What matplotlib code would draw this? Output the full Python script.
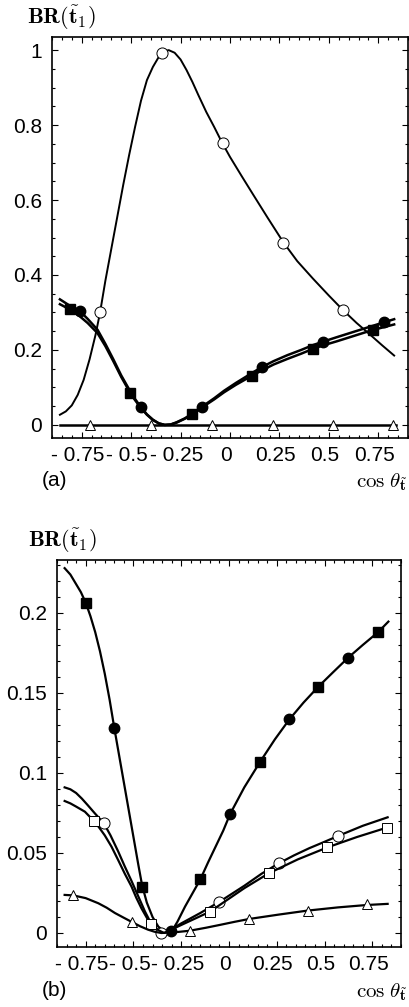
import matplotlib
matplotlib.use("Agg")
import matplotlib.pyplot as plt
import matplotlib.transforms as mtransforms
from matplotlib.ticker import MultipleLocator

plt.rcParams['font.family'] = 'Liberation Sans'
plt.rcParams['mathtext.fontset'] = 'cm'

# ---- panel (a) ----
# open circles: curve and markers
a_circ_line_x = [-0.86, -0.83, -0.80, -0.77, -0.74, -0.71, -0.68, -0.657, -0.63, -0.60, -0.57,
                 -0.54, -0.51, -0.48, -0.45, -0.42, -0.39, -0.36, -0.33, -0.31, -0.28, -0.25,
                 -0.22, -0.19, -0.16, -0.12, -0.08, -0.04, 0.0, 0.06, 0.12, 0.19, 0.27, 0.34,
                 0.42, 0.50, 0.57, 0.64, 0.71, 0.77, 0.83]
a_circ_line_y = [0.027, 0.036, 0.052, 0.08, 0.12, 0.175, 0.24, 0.30, 0.385, 0.47, 0.555,
                 0.64, 0.72, 0.795, 0.865, 0.92, 0.955, 0.982, 0.997, 1.0, 0.993, 0.975,
                 0.947, 0.915, 0.88, 0.835, 0.795, 0.753, 0.715, 0.663, 0.612, 0.553, 0.487, 0.437,
                 0.39, 0.345, 0.307, 0.272, 0.24, 0.212, 0.185]
a_circ_x = [-0.657, -0.345, -0.037, 0.269, 0.572]
a_circ_y = [0.30, 0.993, 0.753, 0.484, 0.307]

# filled squares / filled circles (two nearly identical curves)
a_fill_line_x = [-0.86, -0.81, -0.76, -0.72, -0.67, -0.63, -0.59, -0.55, -0.505, -0.48, -0.45,
                 -0.42, -0.39, -0.36, -0.33, -0.30, -0.27, -0.23, -0.19, -0.14, -0.08, -0.03,
                 0.03, 0.11, 0.16, 0.22, 0.29, 0.36, 0.42, 0.47, 0.54, 0.60, 0.66, 0.72, 0.78, 0.83]
a_sq_line_y = [0.322, 0.308, 0.29, 0.272, 0.245, 0.21, 0.17, 0.128, 0.086, 0.066, 0.045,
               0.027, 0.013, 0.004, 0.0, 0.001, 0.006, 0.016, 0.028, 0.047, 0.068, 0.087,
               0.107, 0.131, 0.145, 0.161, 0.176, 0.19, 0.203, 0.212, 0.223, 0.233, 0.243, 0.253,
               0.261, 0.268]
a_dot_line_y = [0.335, 0.318, 0.304, 0.283, 0.254, 0.216, 0.175, 0.132, 0.09, 0.069, 0.047,
                0.028, 0.014, 0.004, 0.0, 0.001, 0.007, 0.017, 0.03, 0.049, 0.071, 0.091,
                0.112, 0.138, 0.154, 0.17, 0.186, 0.2, 0.213, 0.222, 0.234, 0.244, 0.254, 0.264,
                0.274, 0.282]
a_sq_x = [-0.81, -0.505, -0.194, 0.113, 0.421, 0.724]
a_sq_y = [0.308, 0.086, 0.028, 0.131, 0.203, 0.253]
a_dot_x = [-0.758, -0.451, -0.143, 0.163, 0.471, 0.778]
a_dot_y = [0.304, 0.047, 0.049, 0.154, 0.222, 0.274]

# open triangles
a_tri_line_x = [-0.86, 0.84]
a_tri_line_y = [0.0, 0.0]
a_tri_x = [-0.707, -0.399, -0.089, 0.215, 0.519, 0.825]
a_tri_y = [0.0, 0.0, 0.0, 0.0, 0.0, 0.0]

# ---- panel (b) ----
b_fill_line_x = [-0.86, -0.83, -0.80, -0.775, -0.75, -0.725, -0.70, -0.675, -0.65, -0.625, -0.60,
                 -0.575, -0.55, -0.525, -0.50, -0.475, -0.455, -0.43, -0.40, -0.37, -0.34, -0.305,
                 -0.27, -0.23, -0.19, -0.15, -0.11, -0.07, -0.03, 0.006, 0.08, 0.163, 0.24, 0.316,
                 0.39, 0.468, 0.545, 0.623, 0.70, 0.78, 0.834]
b_fill_line_y = [0.228, 0.224, 0.218, 0.213, 0.2065, 0.198, 0.188, 0.176, 0.162, 0.146, 0.128,
                 0.111, 0.094, 0.077, 0.060, 0.043, 0.030, 0.019, 0.010, 0.004, 0.001, 0.0,
                 0.007, 0.0165, 0.025, 0.0335, 0.044, 0.054, 0.064, 0.0744, 0.091, 0.107, 0.121,
                 0.1335, 0.144, 0.154, 0.163, 0.172, 0.18, 0.188, 0.1946]
b_sq_x = [-0.749, -0.455, -0.15, 0.163, 0.468, 0.78]
b_sq_y = [0.2065, 0.029, 0.0335, 0.107, 0.154, 0.188]
b_dot_x = [-0.601, -0.305, 0.006, 0.316, 0.623]
b_dot_y = [0.1283, 0.0013, 0.0744, 0.1335, 0.172]

b_ocirc_line_x = [-0.86, -0.83, -0.80, -0.77, -0.74, -0.70, -0.655, -0.62, -0.58, -0.545, -0.51,
                  -0.475, -0.44, -0.41, -0.38, -0.35, -0.34, -0.30, -0.25, -0.15, -0.05, 0.08,
                  0.17, 0.26, 0.34, 0.42, 0.50, 0.57, 0.70, 0.83]
b_ocirc_line_y = [0.091, 0.0898, 0.0875, 0.084, 0.080, 0.0745, 0.0686, 0.061, 0.051, 0.0415,
                  0.0325, 0.023, 0.0135, 0.0065, 0.0022, 0.0002, 0.0, 0.0025, 0.006, 0.0125,
                  0.0195, 0.0295, 0.037, 0.0435, 0.0485, 0.053, 0.057, 0.0606, 0.067, 0.0723]
b_ocirc_x = [-0.655, -0.354, -0.05, 0.26, 0.568]
b_ocirc_y = [0.0686, 0.0, 0.0192, 0.044, 0.0606]

b_osq_line_x = [-0.86, -0.83, -0.80, -0.754, -0.707, -0.68, -0.65, -0.615, -0.58, -0.545, -0.51,
                -0.485, -0.458, -0.43, -0.406, -0.37, -0.34, -0.30, -0.25, -0.1, 0.08, 0.208,
                0.36, 0.515, 0.67, 0.83]
b_osq_line_y = [0.0825, 0.081, 0.079, 0.0758, 0.070, 0.066, 0.061, 0.054, 0.0456, 0.037, 0.029,
                0.022, 0.0154, 0.0095, 0.0056, 0.0018, 0.0, 0.0022, 0.005, 0.0133, 0.028, 0.0373,
                0.046, 0.0535, 0.060, 0.066]
b_osq_x = [-0.707, -0.406, -0.098, 0.208, 0.515, 0.825]
b_osq_y = [0.070, 0.0056, 0.0133, 0.0373, 0.0535, 0.0658]

b_tri_line_x = [-0.86, -0.815, -0.75, -0.684, -0.64, -0.597, -0.55, -0.507, -0.465, -0.424,
                -0.39, -0.354, -0.28, -0.206, -0.12, -0.05, 0.03, 0.107, 0.26, 0.411, 0.57,
                0.721, 0.83]
b_tri_line_y = [0.0238, 0.0235, 0.0218, 0.0186, 0.0158, 0.0125, 0.0095, 0.0068, 0.0042, 0.0021,
                0.0008, 0.0, 0.0005, 0.0014, 0.0033, 0.005, 0.007, 0.0088, 0.0115, 0.014, 0.016,
                0.0175, 0.0182]
b_tri_x = [-0.815, -0.507, -0.206, 0.107, 0.411, 0.721]
b_tri_y = [0.024, 0.0071, 0.001, 0.0088, 0.014, 0.018]

x_ticks = [-0.75, -0.5, -0.25, 0, 0.25, 0.5, 0.75]
x_tick_labels = ['- 0.75', '- 0.5', '- 0.25', '0', '0.25', '0.5', '0.75']
a_y_ticks = [0, 0.2, 0.4, 0.6, 0.8, 1]
a_y_tick_labels = ['0', '0.2', '0.4', '0.6', '0.8', '1']
b_y_ticks = [0, 0.05, 0.1, 0.15, 0.2]
b_y_tick_labels = ['0', '0.05', '0.1', '0.15', '0.2']

W, H = 409, 1007
fig = plt.figure(figsize=(W / 100, H / 100), dpi=100)


def style_axes(ax, yticks, ylabels, ylim, yminor):
    ax.set_xlim(-0.9, 0.9)
    ax.set_ylim(*ylim)
    ax.set_xticks(x_ticks)
    ax.set_xticklabels(x_tick_labels)
    ax.set_yticks(yticks)
    ax.set_yticklabels(ylabels)
    ax.xaxis.set_minor_locator(MultipleLocator(0.05))
    ax.yaxis.set_minor_locator(MultipleLocator(yminor))
    ax.tick_params(which='both', direction='in', top=True, right=True, labelsize=15, width=0.8)
    ax.tick_params(which='major', length=4)
    ax.tick_params(which='minor', length=2)
    ax.tick_params(axis='x', pad=6)
    ax.tick_params(axis='y', pad=7)
    for s in ax.spines.values():
        s.set_linewidth(1.2)
    shift = mtransforms.ScaledTranslation(-4 / 100, 0, fig.dpi_scale_trans)
    for lab in ax.get_xticklabels():
        lab.set_transform(lab.get_transform() + shift)


lw = 1.6
# panel (a)
ax1 = fig.add_axes([52 / W, 1 - 438 / H, 356 / W, 401 / H])
ax1.plot(a_circ_line_x, a_circ_line_y, color='black', lw=1.4)
ax1.plot(a_circ_x, a_circ_y, 'o', ms=8, mfc='white', mec='black', mew=0.7)
ax1.plot(a_fill_line_x, a_sq_line_y, color='black', lw=1.8)
ax1.plot(a_fill_line_x, a_dot_line_y, color='black', lw=1.8)
ax1.plot(a_sq_x, a_sq_y, 's', ms=7, color='black')
ax1.plot(a_dot_x, a_dot_y, 'o', ms=7.5, color='black')
ax1.plot(a_tri_line_x, a_tri_line_y, color='black', lw=1.8)
ax1.plot(a_tri_x, a_tri_y, '^', ms=7.5, mfc='white', mec='black', mew=0.7)
style_axes(ax1, a_y_ticks, a_y_tick_labels, (-0.035, 1.035), 0.05)

# panel (b)
ax2 = fig.add_axes([57 / W, 1 - 947 / H, 344 / W, 387 / H])
ax2.plot(b_fill_line_x, b_fill_line_y, color='black', lw=lw)
ax2.plot(b_sq_x, b_sq_y, 's', ms=7, color='black')
ax2.plot(b_dot_x, b_dot_y, 'o', ms=7.5, color='black')
ax2.plot(b_ocirc_line_x, b_ocirc_line_y, color='black', lw=lw)
ax2.plot(b_ocirc_x, b_ocirc_y, 'o', ms=8, mfc='white', mec='black', mew=0.7)
ax2.plot(b_osq_line_x, b_osq_line_y, color='black', lw=lw)
ax2.plot(b_osq_x, b_osq_y, 's', ms=7, mfc='white', mec='black', mew=0.7)
ax2.plot(b_tri_line_x, b_tri_line_y, color='black', lw=lw)
ax2.plot(b_tri_x, b_tri_y, '^', ms=7.5, mfc='white', mec='black', mew=0.7)
style_axes(ax2, b_y_ticks, b_y_tick_labels, (-0.00875, 0.2331), 0.01)

br = r'$\mathbf{BR}(\tilde{\mathbf{t}}_{\mathbf{1}})$'
cos_lab = r'$\cos\,\theta_{\tilde{\mathbf{t}}}$'
fig.text(27 / W, 1 - 18 / H, br, fontsize=16, ha='left', va='center')
fig.text(28 / W, 1 - 541 / H, br, fontsize=16, ha='left', va='center')
fig.text(42 / W, 1 - 481 / H, '(a)', fontsize=15, ha='left', va='center')
fig.text(42 / W, 1 - 990 / H, '(b)', fontsize=15, ha='left', va='center')
fig.text(408 / W, 1 - 482 / H, cos_lab, fontsize=15, ha='right', va='center')
fig.text(408 / W, 1 - 992 / H, cos_lab, fontsize=15, ha='right', va='center')

fig.savefig('out.png', dpi=100)
